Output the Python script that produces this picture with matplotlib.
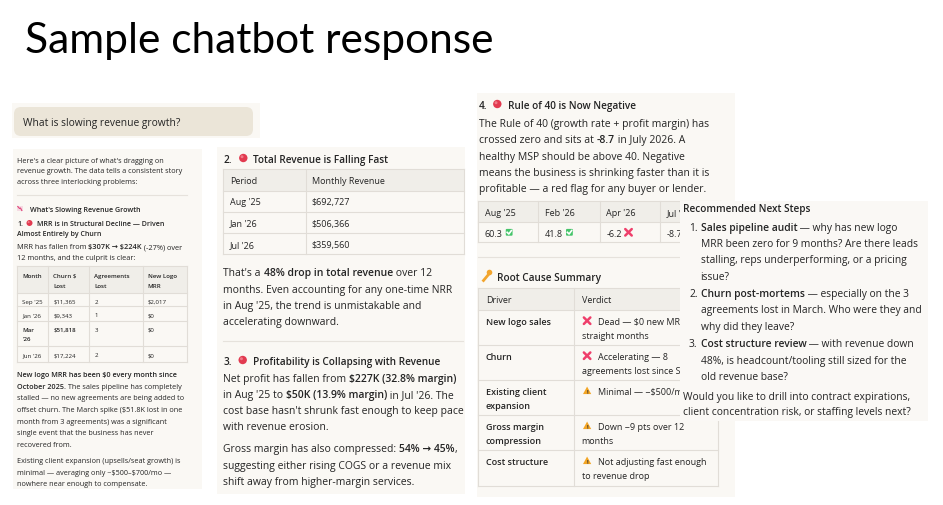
import matplotlib
matplotlib.use('Agg')
import matplotlib.pyplot as plt
from matplotlib.patches import Rectangle, FancyBboxPatch, Circle, Polygon
from matplotlib.font_manager import FontProperties
from matplotlib.transforms import Bbox

FAMILY = ['Open Sans', 'DejaVu Sans']
BOLD = 'semibold'
plt.rcParams['font.family'] = FAMILY

# ---- data ----
churn_cols = ['Month', 'Churn $\nLost', 'Agreements\nLost', 'New Logo\nMRR']
churn_month = ["Sep '25", "Jan '26", "Mar\n'26", "Jun '26"]
churn_lost = [11365, 9343, 51818, 17224]
agreements_lost = [2, 1, 3, 2]
new_logo_mrr = [2017, 0, 0, 0]

rev_period = ["Aug '25", "Jan '26", "Jul '26"]
rev_monthly = [692727, 506366, 359560]

r40_month = ["Aug '25", "Feb '26", "Apr '26", "Jul '26"]
r40_value = [60.3, 41.8, -6.2, -8.7]

drivers = ['New logo sales', 'Churn', 'Existing client\nexpansion',
           'Gross margin\ncompression', 'Cost structure']
verdict_icon = ['x', 'x', 'warn', 'warn', 'warn']
verdicts = ["Dead — $0 new MRR for 9\nstraight months",
            "Accelerating — 8\nagreements lost since Sep '25",
            "Minimal — ~$500/mo",
            "Down ~9 pts over 12\nmonths",
            "Not adjusting fast enough\nto revenue drop"]

W, H = 943, 506
fig = plt.figure(figsize=(W / 100, H / 100), dpi=100)
ax = fig.add_axes([0, 0, 1, 1])
ax.set_xlim(0, W)
ax.set_ylim(H, 0)
ax.axis('off')
renderer = fig.canvas.get_renderer()

TEXT = '#242424'
PANEL = '#faf8f4'
GRID = '#e1ddd7'
HEAD = '#f0eee9'
RED = '#e23a50'
REC_X0, REC_Y1 = 680, 422
# texts under the "next steps" card get cut at its left edge
CLIP = Bbox([[0, 0], [REC_X0, H]])


def tw(s, size, bold=False):
    prop = FontProperties(family=FAMILY, size=size,
                          weight=BOLD if bold else 'normal')
    a = renderer.get_text_width_height_descent(s + '|', prop, ismath=False)[0]
    b = renderer.get_text_width_height_descent('|', prop, ismath=False)[0]
    return a - b


def rich(x, y, line, size, bold_all=False, z=3, color=TEXT, clip=False):
    off = 0.36 * size * 100 / 72
    for i, chunk in enumerate(line.split('**')):
        if not chunk:
            continue
        bold = bold_all or i % 2 == 1
        t = ax.text(x, y + off, chunk, fontsize=size, color=color, va='baseline',
                    ha='left', fontweight=BOLD if bold else 'normal',
                    parse_math=False, zorder=z)
        if clip and y < REC_Y1:
            t.set_clip_box(CLIP)
            t.set_clip_on(True)
        x += tw(chunk, size, bold)
    return x


def para(x, y, lines, size, step, z=3, bold_all=False):
    for k, ln in enumerate(lines):
        rich(x, y + k * step, ln, size, bold_all=bold_all, z=z)


def panel(x0, y0, x1, y1, color=PANEL, z=1):
    ax.add_patch(Rectangle((x0, y0), x1 - x0, y1 - y0, facecolor=color,
                           edgecolor='none', zorder=z))


def grid(xe, ye, z=2):
    ax.add_patch(Rectangle((xe[0], ye[0]), xe[-1] - xe[0], ye[1] - ye[0],
                           facecolor=HEAD, edgecolor='none', zorder=z))
    for x in xe:
        ax.plot([x, x], [ye[0], ye[-1]], color=GRID, lw=0.8, zorder=z)
    for y in ye:
        ax.plot([xe[0], xe[-1]], [y, y], color=GRID, lw=0.8, zorder=z)


def red_dot(x, y, r):
    ax.add_patch(Circle((x, y), r, facecolor=RED, edgecolor='none', zorder=3))
    ax.add_patch(Circle((x - r * 0.3, y - r * 0.3), r * 0.35,
                        facecolor='#f07a88', edgecolor='none', zorder=3))


def check(x, y, s):
    ax.add_patch(FancyBboxPatch((x - s / 2, y - s / 2), s, s,
                                boxstyle='round,pad=0,rounding_size=1',
                                facecolor='#46c46a', edgecolor='none', zorder=3))
    ax.plot([x - s * 0.3, x - s * 0.05, x + s * 0.32],
            [y, y + s * 0.25, y - s * 0.25], color='white', lw=1.2, zorder=4)


def cross(x, y, s, z=3):
    for d in (1, -1):
        ax.plot([x - s / 2, x + s / 2], [y - d * s / 2, y + d * s / 2],
                color='#ef3f6b', lw=1.8, solid_capstyle='round', zorder=z)


def warn(x, y, s):
    ax.add_patch(Polygon([[x, y - s * 0.55], [x - s * 0.55, y + s * 0.45],
                          [x + s * 0.55, y + s * 0.45]], closed=True,
                         facecolor='#f3a524', edgecolor='none', zorder=3))
    ax.text(x, y + s * 0.12, '!', fontsize=4.2, ha='center', va='center',
            color='#333333', fontweight='bold', zorder=4)


# ---- title ----
ax.text(25, 53, 'Sample chatbot response', fontsize=30.6, family='Lato',
        color='black', va='baseline', ha='left')

# ---- question bubble ----
panel(12, 104, 260, 139)
ax.add_patch(FancyBboxPatch((14, 108), 239, 29,
                            boxstyle='round,pad=0,rounding_size=7',
                            facecolor='#ebe5d8', edgecolor='none', zorder=2))
rich(23, 122, 'What is slowing revenue growth?', 7.4)

# ---- left panel ----
panel(13, 150, 202, 490)
sL = 5.2
para(17, 160, ["Here's a clear picture of what's dragging on",
               "revenue growth. The data tells a consistent story",
               "across three interlocking problems:"], sL, 10.85)
ax.plot([17, 187], [196, 196], color='#e6e2dc', lw=0.8, zorder=2)
ax.add_patch(Rectangle((17, 206.5), 5.5, 5.5, facecolor='#f5dbe3',
                       edgecolor='none', zorder=3))
ax.plot([17.8, 19.5, 20.5, 21.8], [207.5, 209.5, 209, 211.5], color='#e0457a',
        lw=0.8, zorder=4)
rich(30, 209.3, "What's Slowing Revenue Growth", 5.1, bold_all=True)
rich(17, 224, '1.', 5.0, bold_all=True)
red_dot(29.5, 224, 3.0)
rich(37, 224, 'MRR is in Structural Decline — Driven', 5.0, bold_all=True)
rich(17, 233.3, 'Almost Entirely by Churn', 5.0, bold_all=True)
para(17, 246.7, ['MRR has fallen from **$307K → $224K** (-27%) over',
                 '12 months, and the culprit is clear:'], 5.3, 11)

xe = [17.3, 48.3, 89.3, 142.7, 186.7]
ye = [267.3, 294, 307.3, 322.3, 347.3, 362.7]
grid(xe, ye)
sT = 4.4
for c, name in enumerate(churn_cols):
    for k, part in enumerate(name.split('\n')):
        rich(xe[c] + 5, ye[0] + 8.4 + k * 10, part, sT, bold_all=True)
for r in range(len(churn_month)):
    hot = churn_lost[r] == max(churn_lost)
    cells = [churn_month[r], f'${churn_lost[r]:,}', str(agreements_lost[r]),
             f'${new_logo_mrr[r]:,}']
    for c, val in enumerate(cells):
        for k, part in enumerate(val.split('\n')):
            rich(xe[c] + 5, ye[r + 1] + 7.5 + k * 9.2, part, sT,
                 bold_all=hot and c < 2)

para(17, 374.3, ['**New logo MRR has been $0 every month since**',
                 '**October 2025.** The sales pipeline has completely',
                 'stalled — no new agreements are being added to',
                 'offset churn. The March spike ($51.8K lost in one',
                 'month from 3 agreements) was a significant',
                 'single event that the business has never',
                 'recovered from.'], sL, 11.65)
para(17, 460.7, ['Existing client expansion (upsells/seat growth) is',
                 'minimal — averaging only ~$500–$700/mo —',
                 'nowhere near enough to compensate.'], sL, 11.3)

# ---- middle panel ----
panel(217, 148, 465, 495)
sM = 7.5
sH = 7.2
sTab = 6.5
rich(223.3, 159, '2.', sH, bold_all=True)
red_dot(243.3, 159, 4.2)
rich(253.3, 159, 'Total Revenue is Falling Fast', sH, bold_all=True)
xe = [223.3, 305.7, 464.3]
ye = [170, 191.7, 212.7, 234, 255]
grid(xe, ye)
rich(xe[0] + 6.7, (ye[0] + ye[1]) / 2, 'Period', sTab)
rich(xe[1] + 6.0, (ye[0] + ye[1]) / 2, 'Monthly Revenue', sTab)
for r in range(len(rev_period)):
    yc = (ye[r + 1] + ye[r + 2]) / 2
    rich(xe[0] + 6.7, yc, rev_period[r], sTab)
    rich(xe[1] + 6.0, yc, f'${rev_monthly[r]:,}', sTab)
para(223.3, 272.7, ["That's a **48% drop in total revenue** over 12",
                    'months. Even accounting for any one-time NRR',
                    "in Aug '25, the trend is unmistakable and",
                    'accelerating downward.'], sM, 16.3)
ax.plot([223.3, 463], [341.7, 341.7], color='#e6e2dc', lw=0.8, zorder=2)
rich(223.3, 361, '3.', sH, bold_all=True)
red_dot(242.7, 361, 4.2)
rich(253.3, 361, 'Profitability is Collapsing with Revenue', sH, bold_all=True)
para(223.3, 378.3, ['Net profit has fallen from **$227K (32.8% margin)**',
                    "in Aug '25 to **$50K (13.9% margin)** in Jul '26. The",
                    "cost base hasn't shrunk fast enough to keep pace",
                    'with revenue erosion.'], sM, 15.9)
para(223.3, 448.3, ['Gross margin has also compressed: **54% → 45%**,',
                    'suggesting either rising COGS or a revenue mix',
                    'shift away from higher-margin services.'], sM, 16.7)

# ---- right-middle panel ----
panel(477, 94, 735, 498)
rich(479, 105, '4.', sH, bold_all=True)
red_dot(497.3, 105, 4.2)
rich(508.3, 105, 'Rule of 40 is Now Negative', sH, bold_all=True)
para(479, 123.3, ['The Rule of 40 (growth rate + profit margin) has',
                  'crossed zero and sits at **-8.7** in July 2026. A',
                  'healthy MSP should be above 40. Negative',
                  'means the business is shrinking faster than it is',
                  'profitable — a red flag for any buyer or lender.'], sM, 16.25)
xe = [478.3, 538.3, 600, 660, 720]
ye = [201.7, 223.3, 243.3]
grid(xe, ye)
for c in range(len(r40_month)):
    rich(xe[c] + 6.5, (ye[0] + ye[1]) / 2, r40_month[c], sTab, clip=True)
    yc = (ye[1] + ye[2]) / 2
    xend = rich(xe[c] + 6.5, yc, f'{r40_value[c]}', sTab, clip=True)
    if xend + 10 > REC_X0:
        continue
    if r40_value[c] >= 40:
        check(xend + 6.5, yc, 6.8)
    else:
        cross(xend + 6.5, yc, 6.5)

ax.plot([478, 733], [258.3, 258.3], color='#e6e2dc', lw=0.8, zorder=2)
# key icon
ax.add_patch(Circle((489.5, 273.5), 2.8, facecolor='#f2a52e', edgecolor='none', zorder=3))
ax.plot([488.5, 483.5], [275.5, 281.5], color='#f2a52e', lw=2.0, zorder=3)
rich(496.7, 277.3, 'Root Cause Summary', sH, bold_all=True)
xe = [478.3, 574.3, 718.3]
ye = [289.3, 310.7, 345.7, 380.7, 415.7, 450.7, 486.7]
grid(xe, ye)
rich(xe[0] + 7.7, (ye[0] + ye[1]) / 2, 'Driver', sTab)
rich(xe[1] + 7.4, (ye[0] + ye[1]) / 2, 'Verdict', sTab)
for r in range(len(drivers)):
    y0 = ye[r + 1] + 11
    for k, part in enumerate(drivers[r].split('\n')):
        rich(xe[0] + 7.7, y0 + k * 14, part, sTab, bold_all=True)
    if verdict_icon[r] == 'x':
        cross(xe[1] + 12.8, y0, 6.5)
    else:
        warn(xe[1] + 12.8, y0, 7.5)
    for k, part in enumerate(verdicts[r].split('\n')):
        rich(xe[1] + (23.4 if k == 0 else 7.4), y0 + k * 14, part, sTab,
             clip=True)

# ---- recommended next steps panel (on top) ----
panel(REC_X0, 202, 928, REC_Y1, color='#faf8f5', z=10)
sR = 7.4
rich(683.3, 208.3, 'Recommended Next Steps', 7.2, bold_all=True, z=11)
steps = [['**Sales pipeline audit** — why has new logo',
          'MRR been zero for 9 months? Are there leads',
          'stalling, reps underperforming, or a pricing',
          'issue?'],
         ['**Churn post-mortems** — especially on the 3',
          'agreements lost in March. Who were they and',
          'why did they leave?'],
         ['**Cost structure review** — with revenue down',
          '48%, is headcount/tooling still sized for the',
          'old revenue base?']]
y = 227.3
for n, item in enumerate(steps, start=1):
    rich(689, y, f'{n}.', sR, z=11)
    for ln in item:
        rich(700.7, y, ln, sR, z=11)
        y += 16.2
    y += 1.5
para(683.3, 396, ['Would you like to drill into contract expirations,',
                  'client concentration risk, or staffing levels next?'], sR, 15.7, z=11)

fig.savefig('out.png', dpi=100)
